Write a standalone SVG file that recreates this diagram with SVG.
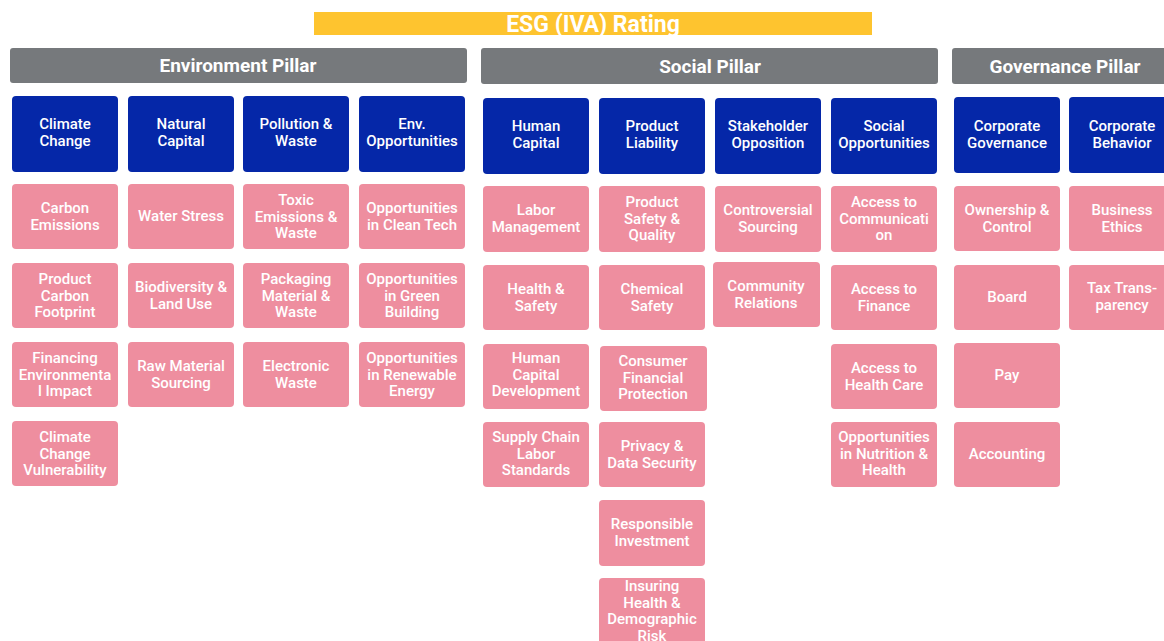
<svg xmlns="http://www.w3.org/2000/svg" width="1164" height="641" viewBox="0 0 1164 641">
<style>
.bg{fill:#ffffff}
.rating{fill:#fec42f}
.pillar{fill:#76797c}
.cat{fill:#0527a8}
.ind{fill:#ee8e9f}
text{font-family:Roboto,"Liberation Sans",sans-serif;fill:#ffffff;text-anchor:middle}
.t-rating{font-size:23px;font-weight:700}
.t-pillar{font-size:19px;font-weight:700}
.t-cat{font-size:15px;font-weight:500}
.t-ind{font-size:15px;font-weight:500}
</style>
<rect class="bg" x="0" y="0" width="1164" height="641"/>

<g id="rating">
<rect class="rating" x="314" y="12" width="558" height="23"/>
<text class="t-rating" x="593" y="32">ESG (IVA) Rating</text>
</g>

<g id="env-pillar">
<rect class="pillar" x="10" y="48" width="457" height="35" rx="3"/>
<text class="t-pillar" x="238" y="72">Environment Pillar</text>
</g>
<g id="social-pillar">
<rect class="pillar" x="481" y="48" width="457" height="36" rx="3"/>
<text class="t-pillar" x="710" y="73">Social Pillar</text>
</g>
<g id="gov-pillar">
<rect class="pillar" x="952" y="48" width="226" height="36" rx="3"/>
<text class="t-pillar" x="1065" y="73">Governance Pillar</text>
</g>

<!-- Environment categories -->
<g id="climate-change">
<rect class="cat" x="12" y="96" width="106" height="76" rx="4"/>
<text class="t-cat" x="65" y="129">Climate<tspan x="65" dy="17">Change</tspan></text>
</g>
<g id="natural-capital">
<rect class="cat" x="128" y="96" width="106" height="76" rx="4"/>
<text class="t-cat" x="181" y="129">Natural<tspan x="181" dy="17">Capital</tspan></text>
</g>
<g id="pollution-waste">
<rect class="cat" x="243" y="96" width="106" height="76" rx="4"/>
<text class="t-cat" x="296" y="129">Pollution &amp;<tspan x="296" dy="17">Waste</tspan></text>
</g>
<g id="env-opportunities">
<rect class="cat" x="359" y="96" width="106" height="76" rx="4"/>
<text class="t-cat" x="412" y="129">Env.<tspan x="412" dy="17">Opportunities</tspan></text>
</g>

<!-- Environment issues -->
<g id="carbon-emissions">
<rect class="ind" x="12" y="184" width="106" height="65" rx="4"/>
<text class="t-ind" x="65" y="213">Carbon<tspan x="65" dy="16.5">Emissions</tspan></text>
</g>
<g id="product-carbon-footprint">
<rect class="ind" x="12" y="263" width="106" height="65" rx="4"/>
<text class="t-ind" x="65" y="284">Product<tspan x="65" dy="16.5">Carbon</tspan><tspan x="65" dy="16.5">Footprint</tspan></text>
</g>
<g id="financing-env-impact">
<rect class="ind" x="12" y="342" width="106" height="65" rx="4"/>
<text class="t-ind" x="65" y="363">Financing<tspan x="65" dy="16.5">Environmenta</tspan><tspan x="65" dy="16.5">l Impact</tspan></text>
</g>
<g id="climate-change-vulnerability">
<rect class="ind" x="12" y="421" width="106" height="65" rx="4"/>
<text class="t-ind" x="65" y="442">Climate<tspan x="65" dy="16.5">Change</tspan><tspan x="65" dy="16.5">Vulnerability</tspan></text>
</g>

<g id="water-stress">
<rect class="ind" x="128" y="184" width="106" height="65" rx="4"/>
<text class="t-ind" x="181" y="221">Water Stress</text>
</g>
<g id="biodiversity">
<rect class="ind" x="128" y="263" width="106" height="65" rx="4"/>
<text class="t-ind" x="181" y="292">Biodiversity &amp;<tspan x="181" dy="16.5">Land Use</tspan></text>
</g>
<g id="raw-material">
<rect class="ind" x="128" y="342" width="106" height="65" rx="4"/>
<text class="t-ind" x="181" y="371">Raw Material<tspan x="181" dy="16.5">Sourcing</tspan></text>
</g>

<g id="toxic-emissions">
<rect class="ind" x="243" y="184" width="106" height="65" rx="4"/>
<text class="t-ind" x="296" y="205">Toxic<tspan x="296" dy="16.5">Emissions &amp;</tspan><tspan x="296" dy="16.5">Waste</tspan></text>
</g>
<g id="packaging">
<rect class="ind" x="243" y="263" width="106" height="65" rx="4"/>
<text class="t-ind" x="296" y="284">Packaging<tspan x="296" dy="16.5">Material &amp;</tspan><tspan x="296" dy="16.5">Waste</tspan></text>
</g>
<g id="electronic-waste">
<rect class="ind" x="243" y="342" width="106" height="65" rx="4"/>
<text class="t-ind" x="296" y="371">Electronic<tspan x="296" dy="16.5">Waste</tspan></text>
</g>

<g id="opp-clean-tech">
<rect class="ind" x="359" y="184" width="106" height="65" rx="4"/>
<text class="t-ind" x="412" y="213">Opportunities<tspan x="412" dy="16.5">in Clean Tech</tspan></text>
</g>
<g id="opp-green-building">
<rect class="ind" x="359" y="263" width="106" height="65" rx="4"/>
<text class="t-ind" x="412" y="284">Opportunities<tspan x="412" dy="16.5">in Green</tspan><tspan x="412" dy="16.5">Building</tspan></text>
</g>
<g id="opp-renewable">
<rect class="ind" x="359" y="342" width="106" height="65" rx="4"/>
<text class="t-ind" x="412" y="363">Opportunities<tspan x="412" dy="16.5">in Renewable</tspan><tspan x="412" dy="16.5">Energy</tspan></text>
</g>

<!-- Social categories -->
<g id="human-capital">
<rect class="cat" x="483" y="98" width="106" height="76" rx="4"/>
<text class="t-cat" x="536" y="131">Human<tspan x="536" dy="17">Capital</tspan></text>
</g>
<g id="product-liability">
<rect class="cat" x="599" y="98" width="106" height="76" rx="4"/>
<text class="t-cat" x="652" y="131">Product<tspan x="652" dy="17">Liability</tspan></text>
</g>
<g id="stakeholder-opposition">
<rect class="cat" x="715" y="98" width="106" height="76" rx="4"/>
<text class="t-cat" x="768" y="131">Stakeholder<tspan x="768" dy="17">Opposition</tspan></text>
</g>
<g id="social-opportunities">
<rect class="cat" x="831" y="98" width="106" height="76" rx="4"/>
<text class="t-cat" x="884" y="131">Social<tspan x="884" dy="17">Opportunities</tspan></text>
</g>

<!-- Social issues -->
<g id="labor-management">
<rect class="ind" x="483" y="186" width="106" height="66" rx="4"/>
<text class="t-ind" x="536" y="215">Labor<tspan x="536" dy="16.5">Management</tspan></text>
</g>
<g id="health-safety">
<rect class="ind" x="483" y="265" width="106" height="65" rx="4"/>
<text class="t-ind" x="536" y="294">Health &amp;<tspan x="536" dy="16.5">Safety</tspan></text>
</g>
<g id="human-capital-dev">
<rect class="ind" x="483" y="344" width="106" height="65" rx="4"/>
<text class="t-ind" x="536" y="363">Human<tspan x="536" dy="16.5">Capital</tspan><tspan x="536" dy="16.5">Development</tspan></text>
</g>
<g id="supply-chain-labor">
<rect class="ind" x="483" y="422" width="106" height="65" rx="4"/>
<text class="t-ind" x="536" y="442">Supply Chain<tspan x="536" dy="16.5">Labor</tspan><tspan x="536" dy="16.5">Standards</tspan></text>
</g>

<g id="product-safety">
<rect class="ind" x="599" y="186" width="106" height="66" rx="4"/>
<text class="t-ind" x="652" y="207">Product<tspan x="652" dy="16.5">Safety &amp;</tspan><tspan x="652" dy="16.5">Quality</tspan></text>
</g>
<g id="chemical-safety">
<rect class="ind" x="599" y="265" width="106" height="65" rx="4"/>
<text class="t-ind" x="652" y="294">Chemical<tspan x="652" dy="16.5">Safety</tspan></text>
</g>
<g id="consumer-financial">
<rect class="ind" x="600" y="346" width="107" height="65" rx="4"/>
<text class="t-ind" x="653" y="366">Consumer<tspan x="653" dy="16.5">Financial</tspan><tspan x="653" dy="16.5">Protection</tspan></text>
</g>
<g id="privacy-data">
<rect class="ind" x="599" y="422" width="106" height="65" rx="4"/>
<text class="t-ind" x="652" y="451">Privacy &amp;<tspan x="652" dy="16.5">Data Security</tspan></text>
</g>
<g id="responsible-investment">
<rect class="ind" x="599" y="500" width="106" height="66" rx="4"/>
<text class="t-ind" x="652" y="529">Responsible<tspan x="652" dy="16.5">Investment</tspan></text>
</g>
<g id="insuring-health">
<rect class="ind" x="599" y="578" width="106" height="66" rx="4"/>
<text class="t-ind" x="652" y="591">Insuring<tspan x="652" dy="16.5">Health &amp;</tspan><tspan x="652" dy="16.5">Demographic</tspan><tspan x="652" dy="16.5">Risk</tspan></text>
</g>

<g id="controversial-sourcing">
<rect class="ind" x="715" y="186" width="106" height="66" rx="4"/>
<text class="t-ind" x="768" y="215">Controversial<tspan x="768" dy="16.5">Sourcing</tspan></text>
</g>
<g id="community-relations">
<rect class="ind" x="713" y="262" width="107" height="65" rx="4"/>
<text class="t-ind" x="766" y="291">Community<tspan x="766" dy="16.5">Relations</tspan></text>
</g>

<g id="access-communication">
<rect class="ind" x="831" y="186" width="106" height="66" rx="4"/>
<text class="t-ind" x="884" y="207">Access to<tspan x="884" dy="16.5">Communicati</tspan><tspan x="884" dy="16.5">on</tspan></text>
</g>
<g id="access-finance">
<rect class="ind" x="831" y="265" width="106" height="65" rx="4"/>
<text class="t-ind" x="884" y="294">Access to<tspan x="884" dy="16.5">Finance</tspan></text>
</g>
<g id="access-health-care">
<rect class="ind" x="831" y="344" width="106" height="65" rx="4"/>
<text class="t-ind" x="884" y="373">Access to<tspan x="884" dy="16.5">Health Care</tspan></text>
</g>
<g id="opp-nutrition">
<rect class="ind" x="831" y="422" width="106" height="65" rx="4"/>
<text class="t-ind" x="884" y="442">Opportunities<tspan x="884" dy="16.5">in Nutrition &amp;</tspan><tspan x="884" dy="16.5">Health</tspan></text>
</g>

<!-- Governance categories -->
<g id="corporate-governance">
<rect class="cat" x="954" y="97" width="106" height="76" rx="4"/>
<text class="t-cat" x="1007" y="131">Corporate<tspan x="1007" dy="17">Governance</tspan></text>
</g>
<g id="corporate-behavior">
<rect class="cat" x="1069" y="97" width="106" height="76" rx="4"/>
<text class="t-cat" x="1122" y="131">Corporate<tspan x="1122" dy="17">Behavior</tspan></text>
</g>

<!-- Governance issues -->
<g id="ownership-control">
<rect class="ind" x="954" y="186" width="106" height="65" rx="4"/>
<text class="t-ind" x="1007" y="215">Ownership &amp;<tspan x="1007" dy="16.5">Control</tspan></text>
</g>
<g id="board">
<rect class="ind" x="954" y="265" width="106" height="65" rx="4"/>
<text class="t-ind" x="1007" y="302">Board</text>
</g>
<g id="pay">
<rect class="ind" x="954" y="343" width="106" height="65" rx="4"/>
<text class="t-ind" x="1007" y="380">Pay</text>
</g>
<g id="accounting">
<rect class="ind" x="954" y="422" width="106" height="65" rx="4"/>
<text class="t-ind" x="1007" y="459">Accounting</text>
</g>
<g id="business-ethics">
<rect class="ind" x="1069" y="186" width="106" height="65" rx="4"/>
<text class="t-ind" x="1122" y="215">Business<tspan x="1122" dy="16.5">Ethics</tspan></text>
</g>
<g id="tax-transparency">
<rect class="ind" x="1069" y="265" width="106" height="65" rx="4"/>
<text class="t-ind" x="1122" y="293">Tax Trans-<tspan x="1122" dy="16.5">parency</tspan></text>
</g>
</svg>
